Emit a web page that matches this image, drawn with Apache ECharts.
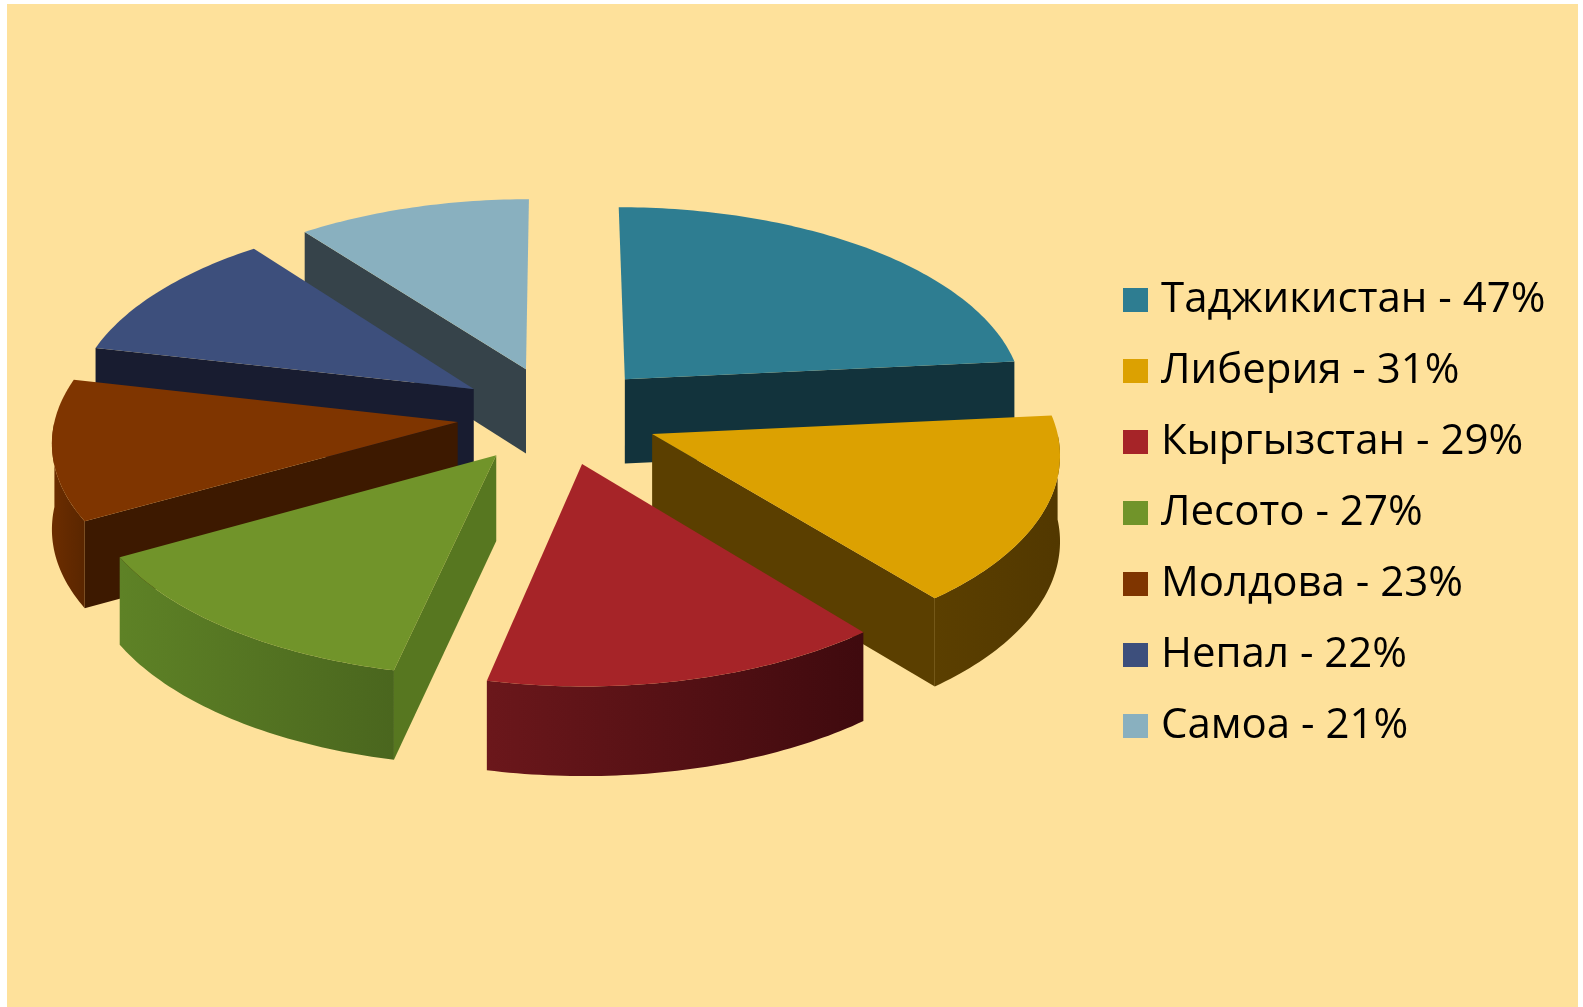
<!DOCTYPE html>
<html>
<head>
<meta charset="utf-8">
<script src="https://cdn.jsdelivr.net/npm/echarts@6/dist/echarts.min.js"></script>
<style>
    html, body { margin: 0; background: #ffffff; }
    #chart { position: absolute; left: 7px; top: 4px; width: 1571px; height: 1003px; background: #fee19b; }
</style>
</head>
<body>
<div id="chart"></div>
<script>
// data
const countries = ['Таджикистан', 'Либерия', 'Кыргызстан', 'Лесото', 'Молдова', 'Непал', 'Самоа'];
const shares = [47, 31, 29, 27, 23, 22, 21];

// styles (top face, radial walls, outer wall gradient left->right)
const topColors = ['#2e7d91', '#dca101', '#a62428', '#71942a', '#7f3500', '#3d4f7c', '#89b0bf'];
const wallColors = ['#12333c', '#5b3f00', '#4f0f13', '#577720', '#3d1900', '#181c30', '#36434a'];
const outerColors = [
    ['#12333c', '#12333c'],
    ['#5b3f00', '#523800'],
    ['#6b171b', '#3f0a0e'],
    ['#5e8226', '#4a661e'],
    ['#6c2d00', '#5a2600'],
    ['#181c30', '#181c30'],
    ['#36434a', '#36434a'],
];

const total = shares.reduce((a, b) => a + b, 0);
const starts = [];
let acc = 0;
shares.forEach((v) => { starts.push(acc); acc += v; });

// fake 3D geometry
const geo = { cx: 551, cy: 411, r: 402, k: 0.488, persp: 0.09, explode: 101, depth: 85 };

function project(theta, rad, mid, down) {
    const X = rad * Math.sin(theta) + geo.explode * Math.sin(mid);
    const Z = -(rad * Math.cos(theta) + geo.explode * Math.cos(mid));
    const s = 1 + geo.persp * Z / geo.r;
    return [geo.cx + X * s, geo.cy + Z * geo.k * s + (down ? geo.depth * Math.sqrt(s) : 0)];
}

function arc(a0, a1, mid, down) {
    const n = Math.max(2, Math.ceil((a1 - a0) / (Math.PI / 180)));
    const pts = [];
    for (let j = 0; j <= n; j++) {
        pts.push(project(a0 + (a1 - a0) * j / n, geo.r, mid, down));
    }
    return pts;
}

function radialWall(theta, mid, color) {
    return {
        type: 'polygon',
        shape: { points: [
            project(0, 0, mid, false), project(theta, geo.r, mid, false),
            project(theta, geo.r, mid, true), project(0, 0, mid, true),
        ] },
        style: { fill: color },
    };
}

function renderSlice(params, api) {
    const value = api.value(0);
    const start = api.value(1);
    const idx = api.value(2);
    const a = start / total * 2 * Math.PI;
    const b = (start + value) / total * 2 * Math.PI;
    const mid = (a + b) / 2;
    const children = [];

    if (Math.sin(a) < -1e-9) children.push(radialWall(a, mid, wallColors[idx]));
    if (Math.sin(b) > 1e-9) children.push(radialWall(b, mid, wallColors[idx]));

    // outer wall, front half only
    const lo = Math.max(a, Math.PI / 2);
    const hi = Math.min(b, Math.PI * 1.5);
    if (hi > lo) {
        const top = arc(lo, hi, mid, false);
        const bottom = arc(lo, hi, mid, true).reverse();
        const pts = top.concat(bottom);
        const xs = pts.map((p) => p[0]);
        const x0 = Math.min(...xs), x1 = Math.max(...xs);
        children.push({
            type: 'polygon',
            shape: { points: pts },
            style: {
                fill: new echarts.graphic.LinearGradient(x0, 0, x1, 0, [
                    { offset: 0, color: outerColors[idx][0] },
                    { offset: 1, color: outerColors[idx][1] },
                ], true),
            },
        });
    }

    // top face
    children.push({
        type: 'polygon',
        shape: { points: [project(0, 0, mid, false)].concat(arc(a, b, mid, false)) },
        style: { fill: topColors[idx] },
    });

    return { type: 'group', children: children };
}

// back-to-front drawing order
const order = countries.map((c, i) => i).sort((i, j) => {
    const mi = (starts[i] + shares[i] / 2) / total * 2 * Math.PI;
    const mj = (starts[j] + shares[j] / 2) / total * 2 * Math.PI;
    return -Math.cos(mi) - -Math.cos(mj);
});

const chart = echarts.init(document.getElementById('chart'));

chart.setOption({
    animation: false,
    backgroundColor: 'transparent',
    legend: {
        orient: 'vertical',
        left: 1111,
        top: 270,
        itemWidth: 25,
        itemHeight: 24,
        itemGap: 29,
        icon: 'rect',
        selectedMode: false,
        data: countries,
        formatter: (name) => name + ' - ' + shares[countries.indexOf(name)] + '%',
        textStyle: {
            fontFamily: 'Open Sans',
            fontSize: 42,
            color: '#000000',
            lineHeight: 42,
            padding: [0, 0, 0, 8],
        },
    },
    series: order.map((i) => ({
        type: 'custom',
        name: countries[i],
        coordinateSystem: 'none',
        itemStyle: { color: topColors[i] },
        renderItem: renderSlice,
        data: [[shares[i], starts[i], i]],
    })),
});
</script>
</body>
</html>
